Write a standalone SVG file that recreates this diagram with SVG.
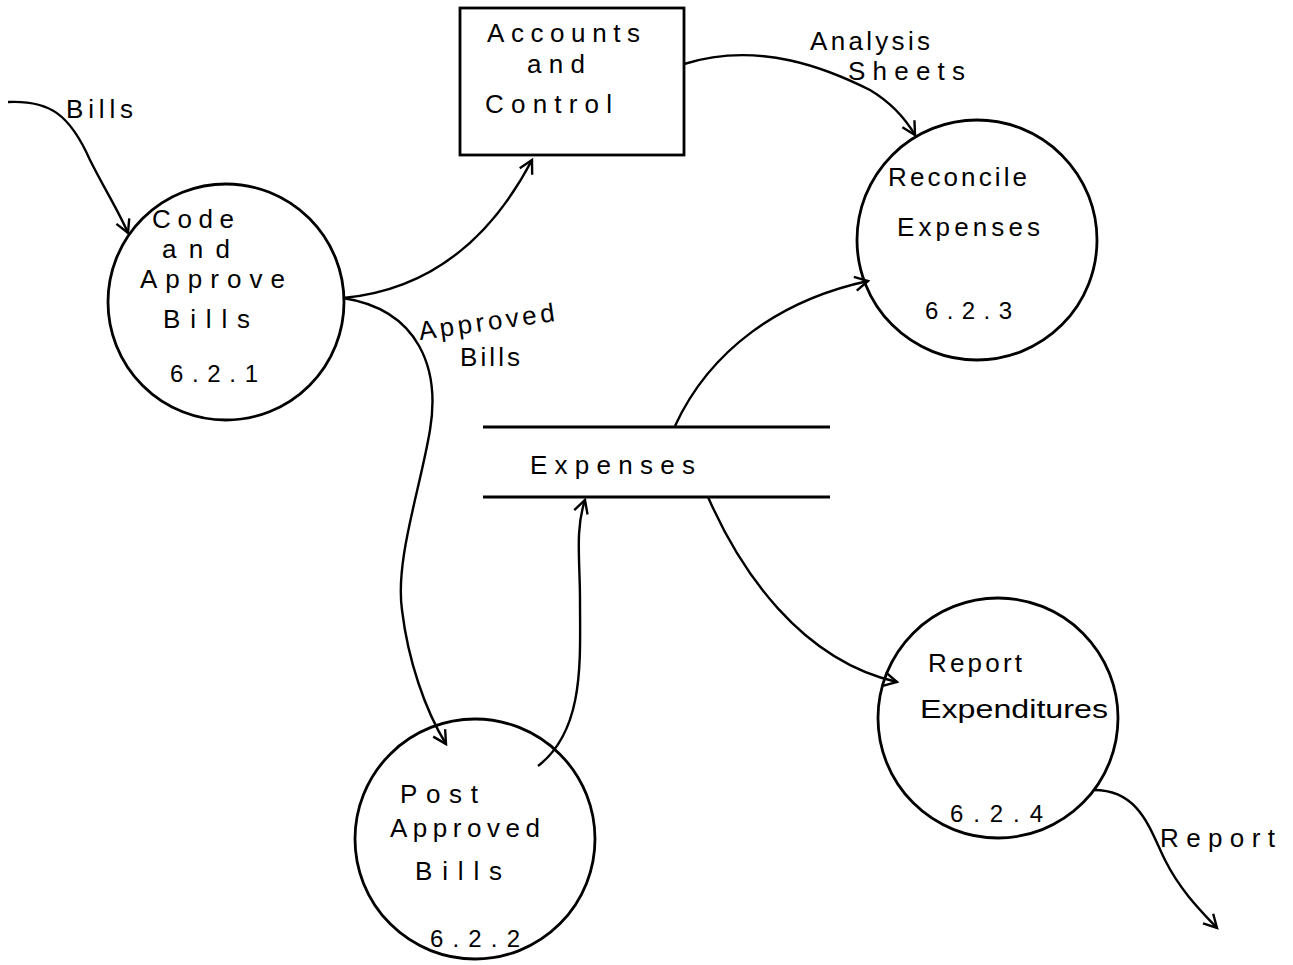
<svg xmlns="http://www.w3.org/2000/svg" width="1293" height="965" viewBox="0 0 1293 965">
  <style>
    .shape { fill: none; stroke: #000; stroke-width: 2.8; }
    .flow { fill: none; stroke: #000; stroke-width: 2.4; marker-end: url(#arrow); }
    .txt { font-family: "Liberation Sans", "DejaVu Sans", sans-serif; font-size: 26px; fill: #000; }
    .num { font-family: "Liberation Sans", "DejaVu Sans", sans-serif; font-size: 24px; fill: #000; }
  </style>
  <defs>
    <marker id="arrow" markerWidth="18" markerHeight="18" refX="15" refY="9" orient="auto" markerUnits="userSpaceOnUse">
      <path d="M 2,2 L 15,9 L 2,16" fill="none" stroke="#000" stroke-width="2.4"/>
    </marker>
  </defs>
  <rect width="1293" height="965" fill="#fff"/>

  <!-- processes -->
  <g id="code-approve-bills">
    <circle class="shape" cx="226" cy="302" r="118"/>
    <text class="txt" x="152" y="228" textLength="82" lengthAdjust="spacing">Code</text>
    <text class="txt" x="162" y="258" font-size="24" textLength="68" lengthAdjust="spacing">and</text>
    <text class="txt" x="140" y="288" textLength="145" lengthAdjust="spacing">Approve</text>
    <text class="txt" x="163" y="328" textLength="87" lengthAdjust="spacing">Bills</text>
    <text class="num" x="170" y="382" textLength="88" lengthAdjust="spacing">6.2.1</text>
  </g>
  <g id="post-approved-bills">
    <circle class="shape" cx="475" cy="839" r="120"/>
    <text class="txt" x="400" y="803" textLength="78" lengthAdjust="spacing">Post</text>
    <text class="txt" x="390" y="837" textLength="150" lengthAdjust="spacing">Approved</text>
    <text class="txt" x="415" y="880" textLength="87" lengthAdjust="spacing">Bills</text>
    <text class="num" x="430" y="947" textLength="90" lengthAdjust="spacing">6.2.2</text>
  </g>
  <g id="reconcile-expenses">
    <circle class="shape" cx="977" cy="240" r="120"/>
    <text class="txt" x="888" y="186" textLength="139" lengthAdjust="spacing">Reconcile</text>
    <text class="txt" x="897" y="236" textLength="143" lengthAdjust="spacing">Expenses</text>
    <text class="num" x="925" y="319" textLength="87" lengthAdjust="spacing">6.2.3</text>
  </g>
  <g id="report-expenditures">
    <circle class="shape" cx="998" cy="718" r="120"/>
    <text class="txt" x="928" y="672" textLength="94" lengthAdjust="spacing">Report</text>
    <text class="txt" x="920" y="718" textLength="188" lengthAdjust="spacingAndGlyphs">Expenditures</text>
    <text class="num" x="950" y="822" textLength="93" lengthAdjust="spacing">6.2.4</text>
  </g>

  <!-- external entity -->
  <g id="accounts-and-control">
    <rect class="shape" x="460" y="8" width="224" height="147"/>
    <text class="txt" x="487" y="42" textLength="153" lengthAdjust="spacing">Accounts</text>
    <text class="txt" x="527" y="73" textLength="58" lengthAdjust="spacing">and</text>
    <text class="txt" x="485" y="113" textLength="127" lengthAdjust="spacing">Control</text>
  </g>

  <!-- data store -->
  <g id="expenses-store">
    <line class="shape" x1="483" y1="427" x2="830" y2="427"/>
    <line class="shape" x1="483" y1="497" x2="830" y2="497"/>
    <text class="txt" x="530" y="474" textLength="165" lengthAdjust="spacing">Expenses</text>
  </g>

  <!-- data flows -->
  <g id="connectors">
    <path class="flow" d="M 8,102 C 50,100 70,115 90,160 C 105,190 118,210 128,233"/>
    <path class="flow" d="M 343,298 C 430,290 490,240 532,160"/>
    <path class="flow" d="M 684,64 C 760,40 830,70 870,90 C 890,102 905,118 915,135"/>
    <path class="flow" d="M 343,298 C 420,310 440,370 430,430 C 420,490 395,560 402,610 C 408,660 425,710 446,744"/>
    <path class="flow" d="M 538,766 C 585,730 580,660 580,600 C 580,560 575,530 585,500"/>
    <path class="flow" d="M 675,426 C 710,350 780,300 868,281"/>
    <path class="flow" d="M 708,497 C 740,570 800,660 897,682"/>
    <path class="flow" d="M 1094,790 C 1140,790 1150,830 1165,860 C 1180,890 1200,910 1217,928"/>
  </g>

  <!-- flow labels -->
  <g id="labels">
    <text class="txt" x="66" y="118" textLength="67" lengthAdjust="spacing">Bills</text>
    <text class="txt" x="810" y="50" textLength="120" lengthAdjust="spacing">Analysis</text>
    <text class="txt" x="848" y="80" textLength="117" lengthAdjust="spacing">Sheets</text>
    <text class="txt" x="420" y="340" textLength="137" lengthAdjust="spacing" transform="rotate(-8 420 340)">Approved</text>
    <text class="txt" x="460" y="366" textLength="60" lengthAdjust="spacing">Bills</text>
    <text class="txt" x="1160" y="847" textLength="115" lengthAdjust="spacing">Report</text>
  </g>
</svg>
